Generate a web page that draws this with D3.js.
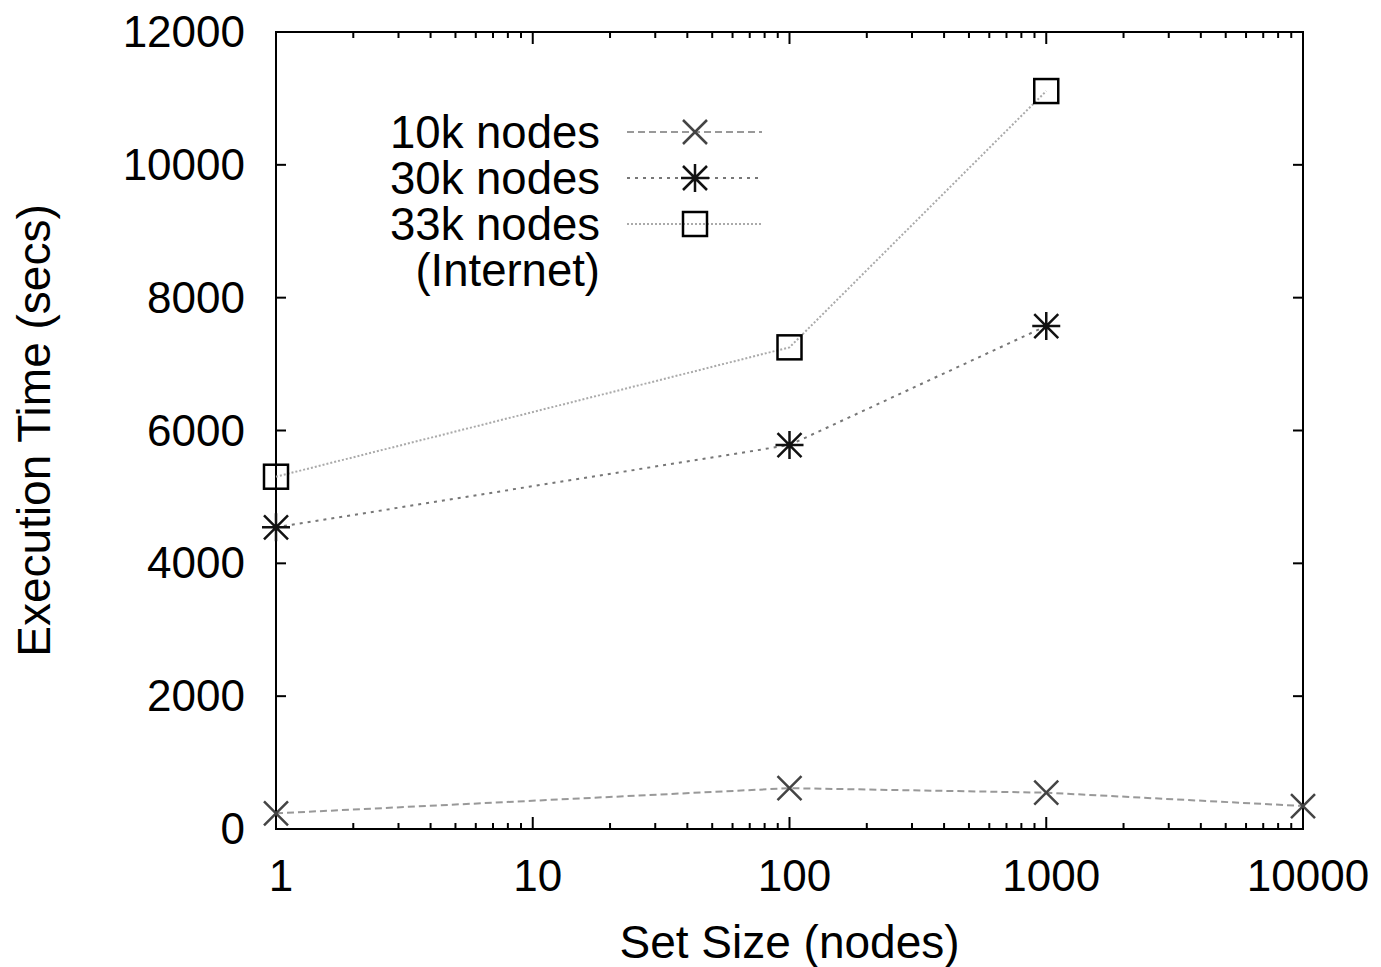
<!DOCTYPE html>
<html>
<head>
<meta charset="utf-8">
<script src="https://cdn.jsdelivr.net/npm/d3@7"></script>
<style>
  body { margin: 0; background: #fff; }
  text { font-family: "Liberation Sans", Arial, sans-serif; fill: #000; }
</style>
</head>
<body>
<div id="chart"></div>
<script>
// data
const setSizes10k = [1, 100, 1000, 10000];
const time10k = [236, 615, 547, 346];
const setSizes30k = [1, 100, 1000];
const time30k = [4542, 5781, 7573];
const setSizes33k = [1, 100, 1000];
const time33k = [5304, 7252, 11111];
const seriesNames = ["10k nodes", "30k nodes", "33k nodes"];
const yTicks = [0, 2000, 4000, 6000, 8000, 10000, 12000];
const xTicks = [1, 10, 100, 1000, 10000];

const width = 1381;
const height = 967;
const marginTop = 32;
const marginRight = 78;
const marginBottom = 138;
const marginLeft = 276;

const x = d3.scaleLog()
    .domain([1, 10000])
    .range([marginLeft, width - marginRight]);

const y = d3.scaleLinear()
    .domain([0, 12000])
    .range([height - marginBottom, marginTop]);

const svg = d3.select("#chart").append("svg")
    .attr("width", width)
    .attr("height", height)
    .attr("viewBox", [0, 0, width, height]);

const tickFont = 44;
const titleFont = 46;
const legendFont = 45.5;

// minor log ticks
const minor = [];
for (let d = 1; d < 10000; d *= 10)
    for (let k = 2; k <= 9; k++) minor.push(d * k);

const x0 = x.range()[0], x1 = x.range()[1];
const y0 = y.range()[0], y1 = y.range()[1];

const ticks = svg.append("g")
    .attr("stroke", "#000")
    .attr("stroke-width", 2);

// x major ticks, bottom + top
xTicks.forEach(v => {
    ticks.append("line").attr("x1", x(v)).attr("x2", x(v)).attr("y1", y0).attr("y2", y0 - 12);
    ticks.append("line").attr("x1", x(v)).attr("x2", x(v)).attr("y1", y1).attr("y2", y1 + 12);
});
minor.forEach(v => {
    ticks.append("line").attr("x1", x(v)).attr("x2", x(v)).attr("y1", y0).attr("y2", y0 - 6);
    ticks.append("line").attr("x1", x(v)).attr("x2", x(v)).attr("y1", y1).attr("y2", y1 + 6);
});
// y ticks, left + right
yTicks.forEach(v => {
    ticks.append("line").attr("x1", x0).attr("x2", x0 + 10).attr("y1", y(v)).attr("y2", y(v));
    ticks.append("line").attr("x1", x1).attr("x2", x1 - 10).attr("y1", y(v)).attr("y2", y(v));
});

// frame
svg.append("rect")
    .attr("x", x0).attr("y", y1)
    .attr("width", x1 - x0).attr("height", y0 - y1)
    .attr("fill", "none")
    .attr("stroke", "#000")
    .attr("stroke-width", 2);

// tick labels
svg.append("g").selectAll("text")
    .data(yTicks)
    .join("text")
    .attr("x", x0 - 31)
    .attr("y", d => y(d) + 15)
    .attr("text-anchor", "end")
    .style("font-size", tickFont + "px")
    .text(d => d);

svg.append("g").selectAll("text")
    .data(xTicks)
    .join("text")
    .attr("x", d => x(d) + 5)
    .attr("y", y0 + 62)
    .attr("text-anchor", "middle")
    .style("font-size", tickFont + "px")
    .text(d => d);

// axis titles
svg.append("text")
    .attr("x", (x0 + x1) / 2)
    .attr("y", 958)
    .attr("text-anchor", "middle")
    .style("font-size", titleFont + "px")
    .text("Set Size (nodes)");

svg.append("text")
    .attr("transform", `translate(50,${(y0 + y1) / 2}) rotate(-90)`)
    .attr("text-anchor", "middle")
    .style("font-size", titleFont + "px")
    .text("Execution Time (secs)");

// series
const series = [
    {name: seriesNames[0], xs: setSizes10k, ys: time10k, dash: "7,4", color: "#999", mark: "cross"},
    {name: seriesNames[1], xs: setSizes30k, ys: time30k, dash: "3,5", color: "#777", mark: "star"},
    {name: seriesNames[2], xs: setSizes33k, ys: time33k, dash: "2,2", color: "#aaa", mark: "square"}
];

const line = d3.line().x(d => x(d[0])).y(d => y(d[1]));

function drawMark(g, mark, cx, cy) {
    const r = 12;
    if (mark === "cross") {
        g.append("path")
            .attr("d", `M${cx - r},${cy - r}L${cx + r},${cy + r}M${cx - r},${cy + r}L${cx + r},${cy - r}`)
            .attr("stroke", "#444").attr("stroke-width", 2.5).attr("fill", "none");
    } else if (mark === "star") {
        g.append("path")
            .attr("d", `M${cx - r},${cy - r}L${cx + r},${cy + r}M${cx - r},${cy + r}L${cx + r},${cy - r}` +
                       `M${cx - 14},${cy}L${cx + 14},${cy}M${cx},${cy - 14}L${cx},${cy + 14}`)
            .attr("stroke", "#111").attr("stroke-width", 2.5).attr("fill", "none");
    } else {
        g.append("rect")
            .attr("x", cx - 12).attr("y", cy - 12)
            .attr("width", 24).attr("height", 24)
            .attr("stroke", "#000").attr("stroke-width", 2.5).attr("fill", "none");
    }
}

series.forEach(s => {
    const pts = s.xs.map((v, i) => [v, s.ys[i]]);
    svg.append("path")
        .datum(pts)
        .attr("d", line)
        .attr("fill", "none")
        .attr("stroke", s.color)
        .attr("stroke-width", 2)
        .attr("stroke-dasharray", s.dash);
    const g = svg.append("g");
    pts.forEach(p => drawMark(g, s.mark, x(p[0]), y(p[1])));
});

// legend
const legend = svg.append("g");
series.forEach((s, i) => {
    const ly = 132 + i * 46;
    legend.append("text")
        .attr("x", 600)
        .attr("y", ly + 16)
        .attr("text-anchor", "end")
        .style("font-size", legendFont + "px")
        .text(s.name);
    legend.append("line")
        .attr("x1", 627).attr("x2", 762)
        .attr("y1", ly).attr("y2", ly)
        .attr("stroke", s.color)
        .attr("stroke-width", 2)
        .attr("stroke-dasharray", s.dash);
    drawMark(legend, s.mark, 695, ly);
});
legend.append("text")
    .attr("x", 600)
    .attr("y", 132 + 3 * 46 + 16)
    .attr("text-anchor", "end")
    .style("font-size", legendFont + "px")
    .text("(Internet)");
</script>
</body>
</html>
